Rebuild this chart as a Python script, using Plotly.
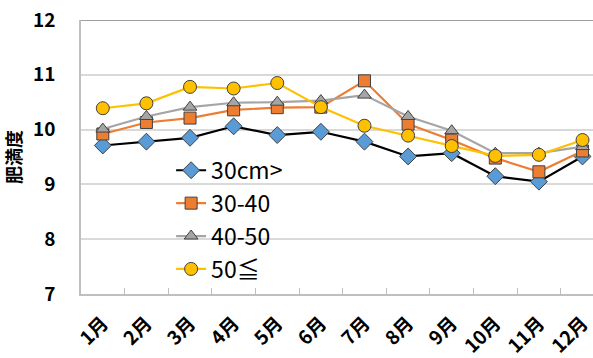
import plotly.graph_objects as go

months = ["1月", "2月", "3月", "4月", "5月", "6月", "7月", "8月", "9月", "10月", "11月", "12月"]

under30 = [9.71, 9.78, 9.85, 10.06, 9.90, 9.96, 9.78, 9.51, 9.57, 9.15, 9.05, 9.51]
s30_40 = [9.92, 10.13, 10.21, 10.36, 10.40, 10.41, 10.89, 10.10, 9.81, 9.48, 9.23, 9.61]
s40_50 = [10.01, 10.24, 10.41, 10.49, 10.50, 10.53, 10.63, 10.24, 9.98, 9.57, 9.57, 9.69]
over50 = [10.39, 10.48, 10.78, 10.75, 10.85, 10.41, 10.07, 9.89, 9.70, 9.52, 9.54, 9.81]

names = ["30cm>", "30-40", "40-50", "50≦"]
series = [under30, s30_40, s40_50, over50]
line_colors = ["#000000", "#ED7D31", "#A5A5A5", "#FFC000"]
fill_colors = ["#5B9BD5", "#ED7D31", "#A5A5A5", "#FFC000"]
symbols = ["diamond", "square", "triangle-up", "circle"]
sizes = [13, 12, 12, 13]

font_family = "Noto Sans CJK JP"

fig = go.Figure()
for name, vals, lc, fc, sym, sz in zip(names, series, line_colors, fill_colors, symbols, sizes):
    fig.add_trace(go.Scatter(
        x=months, y=vals, name=name, mode="lines+markers",
        line=dict(color=lc, width=2.2),
        marker=dict(symbol=sym, size=sz, color=fc,
                    line=dict(color="#404040", width=1)),
    ))

# darker frame line along the top of the plot area
fig.add_shape(type="line", xref="paper", yref="y", x0=0, x1=1, y0=12, y1=12,
              line=dict(color="#7F7F7F", width=1.5), layer="above")

# white legend panel hiding the gridlines behind the legend
fig.add_shape(type="rect", xref="paper", yref="paper",
              x0=0.107, x1=0.472, y0=0.04, y1=0.515,
              fillcolor="white", line=dict(width=0), layer="between")

fig.update_layout(
    width=593, height=358,
    margin=dict(l=81, r=0, t=20, b=64),
    paper_bgcolor="white", plot_bgcolor="white",
    font=dict(family=font_family, color="#000000"),
    showlegend=True,
    legend=dict(
        x=0.176, y=0.53, xanchor="left", yanchor="top",
        bgcolor="rgba(0,0,0,0)", borderwidth=0,
        font=dict(size=23, family=font_family, color="#000000"),
        itemwidth=30, tracegroupgap=0,
    ),
    xaxis=dict(
        type="category", range=[-0.5, 11.24],
        showline=True, linecolor="#BFBFBF", linewidth=1.5,
        ticks="inside", tickson="boundaries", ticklen=6, tickcolor="#BFBFBF",
        tickangle=-45, showgrid=False, ticklabelstandoff=9,
        tickfont=dict(size=19, family=font_family, weight="bold"),
    ),
    yaxis=dict(
        range=[7, 12], dtick=1, showgrid=True, gridcolor="#D9D9D9", gridwidth=1.5,
        showline=True, linecolor="#BFBFBF", linewidth=1.5, zeroline=False,
        ticks="", ticklabelstandoff=20,
        tickfont=dict(size=19, family=font_family, weight="bold"),
        title=dict(text="肥満度", standoff=8,
                   font=dict(size=18, family=font_family, weight="bold")),
    ),
)

fig.write_html("out.html")
